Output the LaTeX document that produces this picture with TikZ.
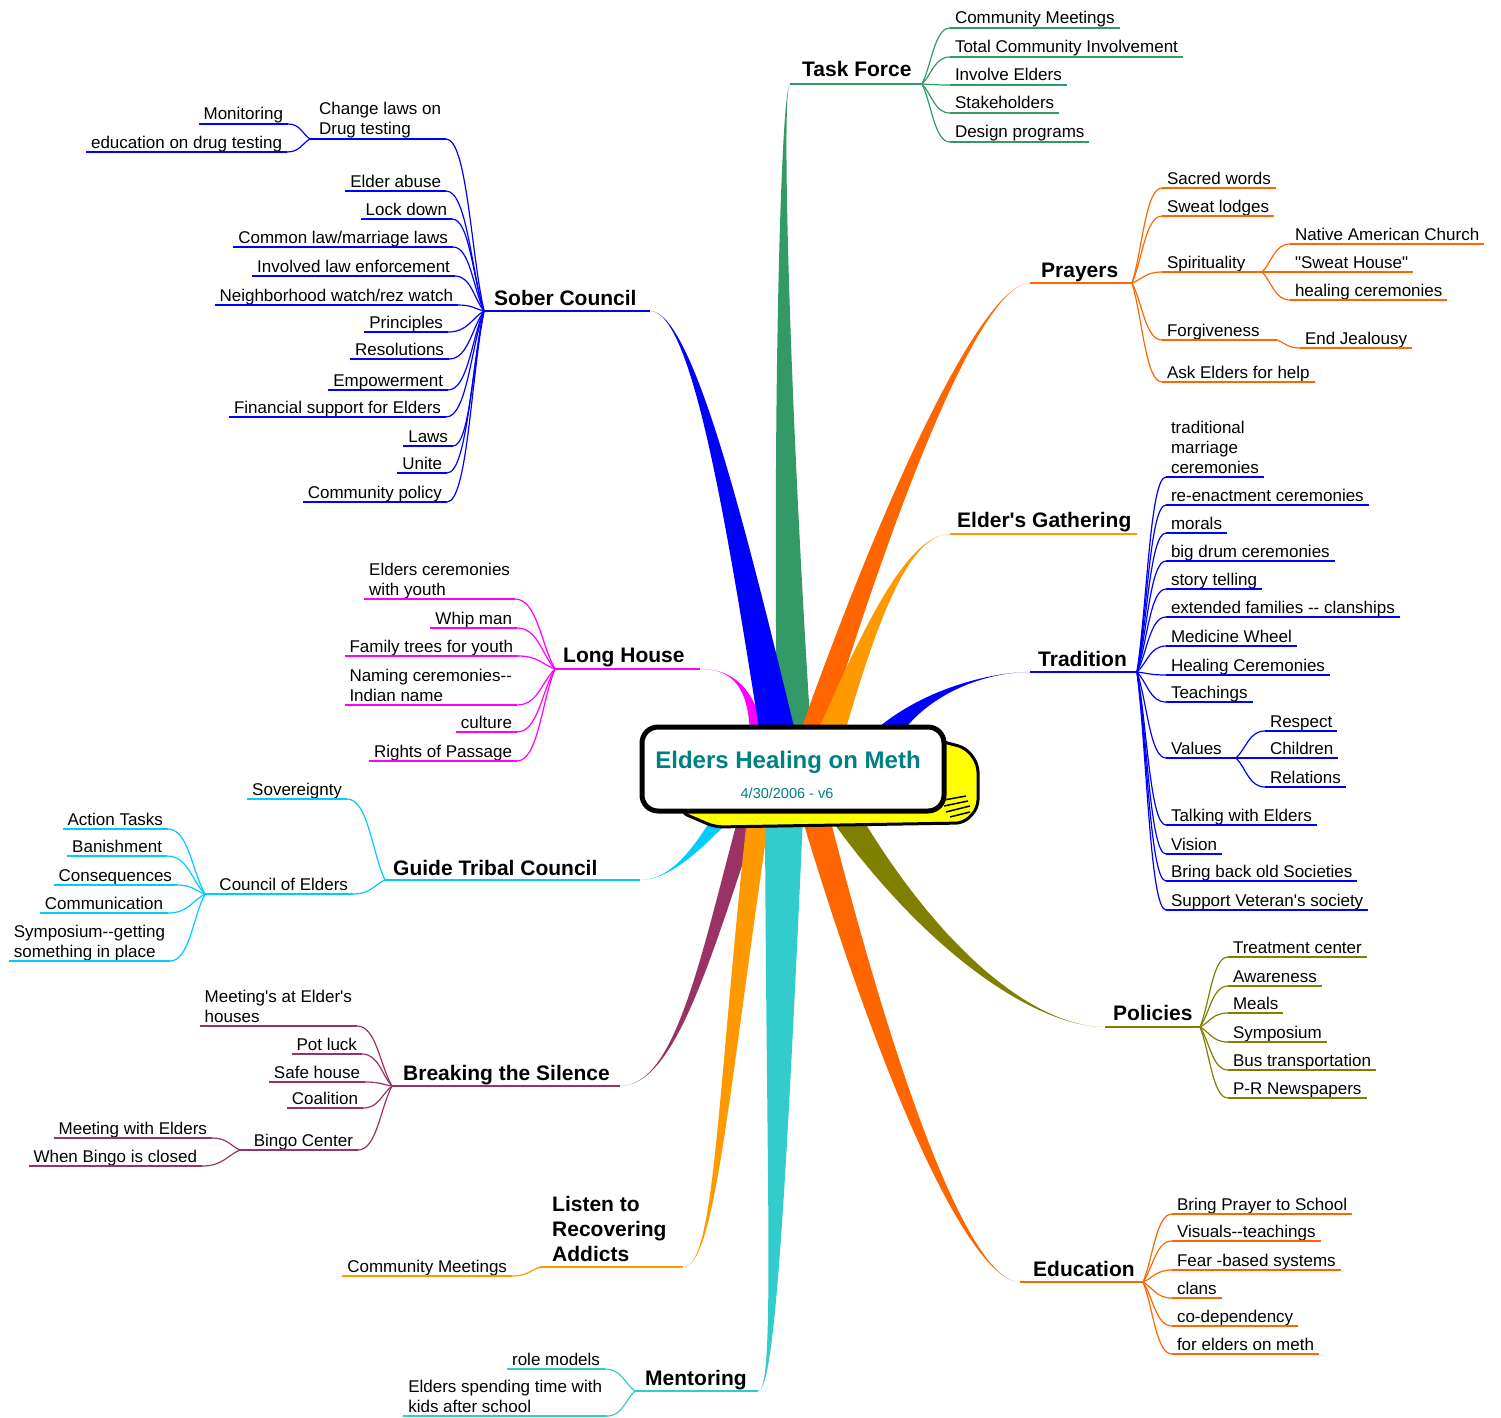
\documentclass[tikz,border=0pt]{standalone}
\usepackage{fontspec}
\setmainfont{Liberation Sans}[Ligatures=TeXOff]
\usetikzlibrary{calc}
\definecolor{cTF}{HTML}{339966}
\definecolor{cBlue}{HTML}{0000FF}
\definecolor{cPr}{HTML}{FF6600}
\definecolor{cGa}{HTML}{FF9900}
\definecolor{cMag}{HTML}{FF00FF}
\definecolor{cCy}{HTML}{00CCFF}
\definecolor{cPl}{HTML}{993366}
\definecolor{cTe}{HTML}{33CCCC}
\definecolor{cOl}{HTML}{808000}
\definecolor{cTitle}{HTML}{008080}
\definecolor{cYel}{HTML}{FFFF00}
\newcommand\mlt[1]{\begin{tabular}[b]{@{}l@{}}#1\end{tabular}}
\tikzset{
  leaf/.style={font=\fontsize{17}{20}\selectfont, inner xsep=5pt, inner ysep=4pt, text depth=0pt, outer sep=0pt},
  ln/.style={line width=1.2pt},
  mainln/.style={line width=1.8pt},
  mainlbl/.style={font=\bfseries\fontsize{21}{25}\selectfont, inner sep=0pt, anchor=base west},
}
% right leaf: name, colour, underline start, text, hub
\newcommand\lfR[5]{%
  \node[leaf,anchor=south west] (#1) at (#3) {#4};
  \draw[#2,ln] (#1.south west) -- (#1.south east);
  \draw[#2,ln] (#5) .. controls ($(#5)!0.35!(#1.south west)$) and ($(#1.south west)!0.55!(#5 |- #1.south west)$) .. (#1.south west);
}
% left leaf: name, colour, underline end, text, hub
\newcommand\lfL[5]{%
  \node[leaf,anchor=south east] (#1) at (#3) {#4};
  \draw[#2,ln] (#1.south west) -- (#1.south east);
  \draw[#2,ln] (#5) .. controls ($(#5)!0.35!(#1.south east)$) and ($(#1.south east)!0.55!(#5 |- #1.south east)$) .. (#1.south east);
}
% tapered trunk: colour, end, c1, c2, base centre, half width
\newcommand\trunk[6]{%
  \fill[#1] (#2) .. controls (#3) and ($(#4)+(-0.5*#6,0)$) .. ($(#5)+(-#6,0)$)
     -- ($(#5)+(#6,0)$) .. controls ($(#4)+(0.5*#6,0)$) and (#3) .. (#2) -- cycle;
}
\begin{document}
\begin{tikzpicture}[x=1pt,y=-1pt]
\useasboundingbox (0,0) rectangle (1501,1418);

% ---------- main branch coordinates ----------
\coordinate (tfE) at (790,84);   \coordinate (tfH) at (922,84);
\coordinate (sobE) at (650,311); \coordinate (sobH) at (484,311);
\coordinate (prE) at (1030,283); \coordinate (prH) at (1132,283);
\coordinate (gaE) at (950,534);  \coordinate (gaH) at (1137,534);
\coordinate (trE) at (1030,672); \coordinate (trH) at (1137,672);
\coordinate (lhE) at (700,669);  \coordinate (lhH) at (555,669);
\coordinate (gtE) at (640,880);  \coordinate (gtH) at (385,880);
\coordinate (btE) at (620,1086); \coordinate (btH) at (392,1086);
\coordinate (liE) at (683,1267); \coordinate (liH) at (540,1267);
\coordinate (meE) at (758,1391); \coordinate (meH) at (635,1391);
\coordinate (poE) at (1105,1027);\coordinate (poH) at (1200,1027);
\coordinate (edE) at (1020,1282);\coordinate (edH) at (1143,1282);

% ---------- trunk bases ----------
\coordinate (bTF) at (794,735);
\coordinate (bSob) at (778,735);
\coordinate (bPr) at (812,735);
\coordinate (bGa) at (830,735);
\coordinate (bTr) at (885,735);
\coordinate (bLh) at (757,735);
\coordinate (bGt) at (722,818);
\coordinate (bBt) at (748,818);
\coordinate (bLi) at (758,818);
\coordinate (bMe) at (784,818);
\coordinate (bEd) at (816,818);
\coordinate (bPo) at (846,818);

% ---------- trunks ----------
\trunk{cMag}{lhE}{735,669}{752,690}{bLh}{7}
\trunk{cTF}{tfE}{781,86}{781,400}{bTF}{17}
\trunk{cBlue}{sobE}{692,311}{735,520}{bSob}{18}
\trunk{cPr}{prE}{985,283}{900,470}{bPr}{13}
\trunk{cGa}{gaE}{905,534}{865,640}{bGa}{14}
\trunk{cBlue}{trE}{990,672}{925,690}{bTr}{15}
\trunk{cCy}{gtE}{672,880}{700,845}{bGt}{10}
\trunk{cPl}{btE}{675,1086}{705,960}{bBt}{10}
\trunk{cGa}{liE}{715,1267}{722,1100}{bLi}{11}
\trunk{cTe}{meE}{775,1391}{776,1200}{bMe}{19}
\trunk{cPr}{edE}{975,1282}{900,1120}{bEd}{14}
\trunk{cOl}{poE}{1040,1027}{940,960}{bPo}{16}

% ---------- central box ----------
\filldraw[fill=cYel, draw=black, line width=3pt, rounded corners=8pt]
  (900,730) -- (966,748) -- (978,764) -- (978,808) -- (964,823) -- (715,827) -- (680,812) -- cycle;
\draw[line width=1.5pt] (944,800) -- (966,796) (944,806) -- (968,801) (946,812) -- (970,806) (950,817) -- (970,812);
\draw[fill=white, line width=5pt, rounded corners=16pt] (642,727) rectangle (944,811);
\node[font=\bfseries\fontsize{24}{28}\selectfont, text=cTitle] (ttl) at (788,762) {Elders Healing on Meth};
\node[font=\fontsize{14.5}{16}\selectfont, text=cTitle] (dte) at (787,793) {4/30/2006 - v6};

% ---------- main underlines and labels ----------
\draw[cTF,mainln] (tfE) -- (tfH);
\draw[cBlue,mainln] (sobH) -- (sobE);
\draw[cPr,mainln] (prE) -- (prH);
\draw[cGa,mainln] (gaE) -- (gaH);
\draw[cBlue,mainln] (trE) -- (trH);
\draw[cMag,mainln] (lhH) -- (lhE);
\draw[cCy,mainln] (gtH) -- (gtE);
\draw[cPl,mainln] (btH) -- (btE);
\draw[cGa,mainln] (liH) -- (liE);
\draw[cTe,mainln] (meH) -- (meE);
\draw[cOl,mainln] (poE) -- (poH);
\draw[cPr,mainln] (edE) -- (edH);

\node[mainlbl] (tf) at (802,77) {Task Force};
\node[mainlbl] (sob) at (494,305) {Sober Council};
\node[mainlbl] (pr) at (1041,277) {Prayers};
\node[mainlbl] (ga) at (957,527) {Elder's Gathering};
\node[mainlbl] (tr) at (1038,666) {Tradition};
\node[mainlbl] (lh) at (563,662) {Long House};
\node[mainlbl] (gt) at (393,875) {Guide Tribal Council};
\node[mainlbl] (bt) at (403,1080) {Breaking the Silence};
\node[mainlbl] (li) at (552,1261) {\mlt{Listen to\\Recovering\\Addicts}};
\node[mainlbl] (me) at (645,1385) {Mentoring};
\node[mainlbl] (po) at (1113,1020) {Policies};
\node[mainlbl] (ed) at (1033,1276) {Education};

% ---------- Task Force ----------
\lfR{tf1}{cTF}{950,28}{Community Meetings}{tfH}
\lfR{tf2}{cTF}{950,57}{Total Community Involvement}{tfH}
\lfR{tf3}{cTF}{950,85}{Involve Elders}{tfH}
\lfR{tf4}{cTF}{950,113}{Stakeholders}{tfH}
\lfR{tf5}{cTF}{950,142}{Design programs}{tfH}

% ---------- Prayers ----------
\lfR{pr1}{cPr}{1162,188}{Sacred words}{prH}
\lfR{pr2}{cPr}{1162,216}{Sweat lodges}{prH}
\lfR{pr3}{cPr}{1162,272}{Spirituality}{prH}
\coordinate (spH) at (1262,272);
\draw[cPr,ln] (pr3.south east) -- (spH);
\lfR{sp1}{cPr}{1290,244}{Native American Church}{spH}
\lfR{sp2}{cPr}{1290,272}{"Sweat House"}{spH}
\lfR{sp3}{cPr}{1290,300}{healing ceremonies}{spH}
\lfR{pr4}{cPr}{1162,340}{Forgiveness}{prH}
\coordinate (fgH) at (1277,340);
\draw[cPr,ln] (pr4.south east) -- (fgH);
\lfR{fg1}{cPr}{1300,348}{End Jealousy}{fgH}
\lfR{pr5}{cPr}{1162,382}{Ask Elders for help}{prH}

% ---------- Tradition ----------
\lfR{tr1}{cBlue}{1166,477}{\mlt{traditional\\marriage\\ceremonies}}{trH}
\lfR{tr2}{cBlue}{1166,505}{re-enactment ceremonies}{trH}
\lfR{tr3}{cBlue}{1166,533}{morals}{trH}
\lfR{tr4}{cBlue}{1166,561}{big drum ceremonies}{trH}
\lfR{tr5}{cBlue}{1166,589}{story telling}{trH}
\lfR{tr6}{cBlue}{1166,617}{extended families -- clanships}{trH}
\lfR{tr7}{cBlue}{1166,646}{Medicine Wheel}{trH}
\lfR{tr8}{cBlue}{1166,675}{Healing Ceremonies}{trH}
\lfR{tr9}{cBlue}{1166,702}{Teachings}{trH}
\lfR{tr10}{cBlue}{1166,758}{Values}{trH}
\coordinate (vaH) at (1236,758);
\draw[cBlue,ln] (tr10.south east) -- (vaH);
\lfR{va1}{cBlue}{1265,731}{Respect}{vaH}
\lfR{va2}{cBlue}{1265,758}{Children}{vaH}
\lfR{va3}{cBlue}{1265,787}{Relations}{vaH}
\lfR{tr11}{cBlue}{1166,825}{Talking with Elders}{trH}
\lfR{tr12}{cBlue}{1166,854}{Vision}{trH}
\lfR{tr13}{cBlue}{1166,881}{Bring back old Societies}{trH}
\lfR{tr14}{cBlue}{1166,910}{Support Veteran's society}{trH}

% ---------- Policies ----------
\lfR{po1}{cOl}{1228,957}{Treatment center}{poH}
\lfR{po2}{cOl}{1228,986}{Awareness}{poH}
\lfR{po3}{cOl}{1228,1013}{Meals}{poH}
\lfR{po4}{cOl}{1228,1042}{Symposium}{poH}
\lfR{po5}{cOl}{1228,1070}{Bus transportation}{poH}
\lfR{po6}{cOl}{1228,1098}{P-R Newspapers}{poH}

% ---------- Education ----------
\lfR{ed1}{cPr}{1172,1214}{Bring Prayer to School}{edH}
\lfR{ed2}{cPr}{1172,1241}{Visuals--teachings}{edH}
\lfR{ed3}{cPr}{1172,1270}{Fear -based systems}{edH}
\lfR{ed4}{cPr}{1172,1298}{clans}{edH}
\lfR{ed5}{cPr}{1172,1326}{co-dependency}{edH}
\lfR{ed6}{cPr}{1172,1354}{for elders on meth}{edH}

% ---------- Sober Council ----------
\lfL{so0}{cBlue}{446,139}{\mlt{Change laws on\\Drug testing}}{sobH}
\coordinate (chH) at (310,139);
\draw[cBlue,ln] (chH) -- (so0.south west);
\lfL{ch1}{cBlue}{288,124}{Monitoring}{chH}
\lfL{ch2}{cBlue}{287,152}{education on drug testing}{chH}
\lfL{so1}{cBlue}{446,191}{Elder abuse}{sobH}
\lfL{so2}{cBlue}{452,219}{Lock down}{sobH}
\lfL{so3}{cBlue}{453,247}{Common law/marriage laws}{sobH}
\lfL{so4}{cBlue}{455,276}{Involved law enforcement}{sobH}
\lfL{so5}{cBlue}{458,305}{Neighborhood watch/rez watch}{sobH}
\lfL{so6}{cBlue}{448,332}{Principles}{sobH}
\lfL{so7}{cBlue}{449,359}{Resolutions}{sobH}
\lfL{so8}{cBlue}{448,390}{Empowerment}{sobH}
\lfL{so9}{cBlue}{446,417}{Financial support for Elders}{sobH}
\lfL{so10}{cBlue}{453,446}{Laws}{sobH}
\lfL{so11}{cBlue}{447,473}{Unite}{sobH}
\lfL{so12}{cBlue}{447,502}{Community policy}{sobH}

% ---------- Long House ----------
\lfL{lh1}{cMag}{515,599}{\mlt{Elders ceremonies\\with youth}}{lhH}
\lfL{lh2}{cMag}{517,628}{Whip man}{lhH}
\lfL{lh3}{cMag}{518,656}{Family trees for youth}{lhH}
\lfL{lh4}{cMag}{517,705}{\mlt{Naming ceremonies--\\Indian name}}{lhH}
\lfL{lh5}{cMag}{517,732}{culture}{lhH}
\lfL{lh6}{cMag}{517,761}{Rights of Passage}{lhH}

% ---------- Guide Tribal Council ----------
\lfL{gt1}{cCy}{347,799}{Sovereignty}{gtH}
\lfL{gt2}{cCy}{353,894}{Council of Elders}{gtH}
\coordinate (coH) at (205,894);
\draw[cCy,ln] (coH) -- (gt2.south west);
\lfL{co1}{cCy}{168,829}{Action Tasks}{coH}
\lfL{co2}{cCy}{167,856}{Banishment}{coH}
\lfL{co3}{cCy}{177,885}{Consequences}{coH}
\lfL{co4}{cCy}{168,913}{Communication}{coH}
\lfL{co5}{cCy}{170,961}{\mlt{Symposium--getting\\something in place}}{coH}

% ---------- Breaking the Silence ----------
\lfL{bt1}{cPl}{357,1026}{\mlt{Meeting's at Elder's\\houses}}{btH}
\lfL{bt2}{cPl}{362,1054}{Pot luck}{btH}
\lfL{bt3}{cPl}{365,1082}{Safe house}{btH}
\lfL{bt4}{cPl}{363,1108}{Coalition}{btH}
\lfL{bt5}{cPl}{358,1150}{Bingo Center}{btH}
\coordinate (bgH) at (240,1150);
\draw[cPl,ln] (bgH) -- (bt5.south west);
\lfL{bg1}{cPl}{212,1138}{Meeting with Elders}{bgH}
\lfL{bg2}{cPl}{202,1166}{When Bingo is closed}{bgH}

% ---------- Listen to Recovering Addicts ----------
\lfL{li1}{cGa}{512,1276}{Community Meetings}{liH}

% ---------- Mentoring ----------
\lfL{me1}{cTe}{605,1369}{role models}{meH}
\lfL{me2}{cTe}{607,1416}{\mlt{Elders spending time with\\kids after school}}{meH}
\end{tikzpicture}
\end{document}
